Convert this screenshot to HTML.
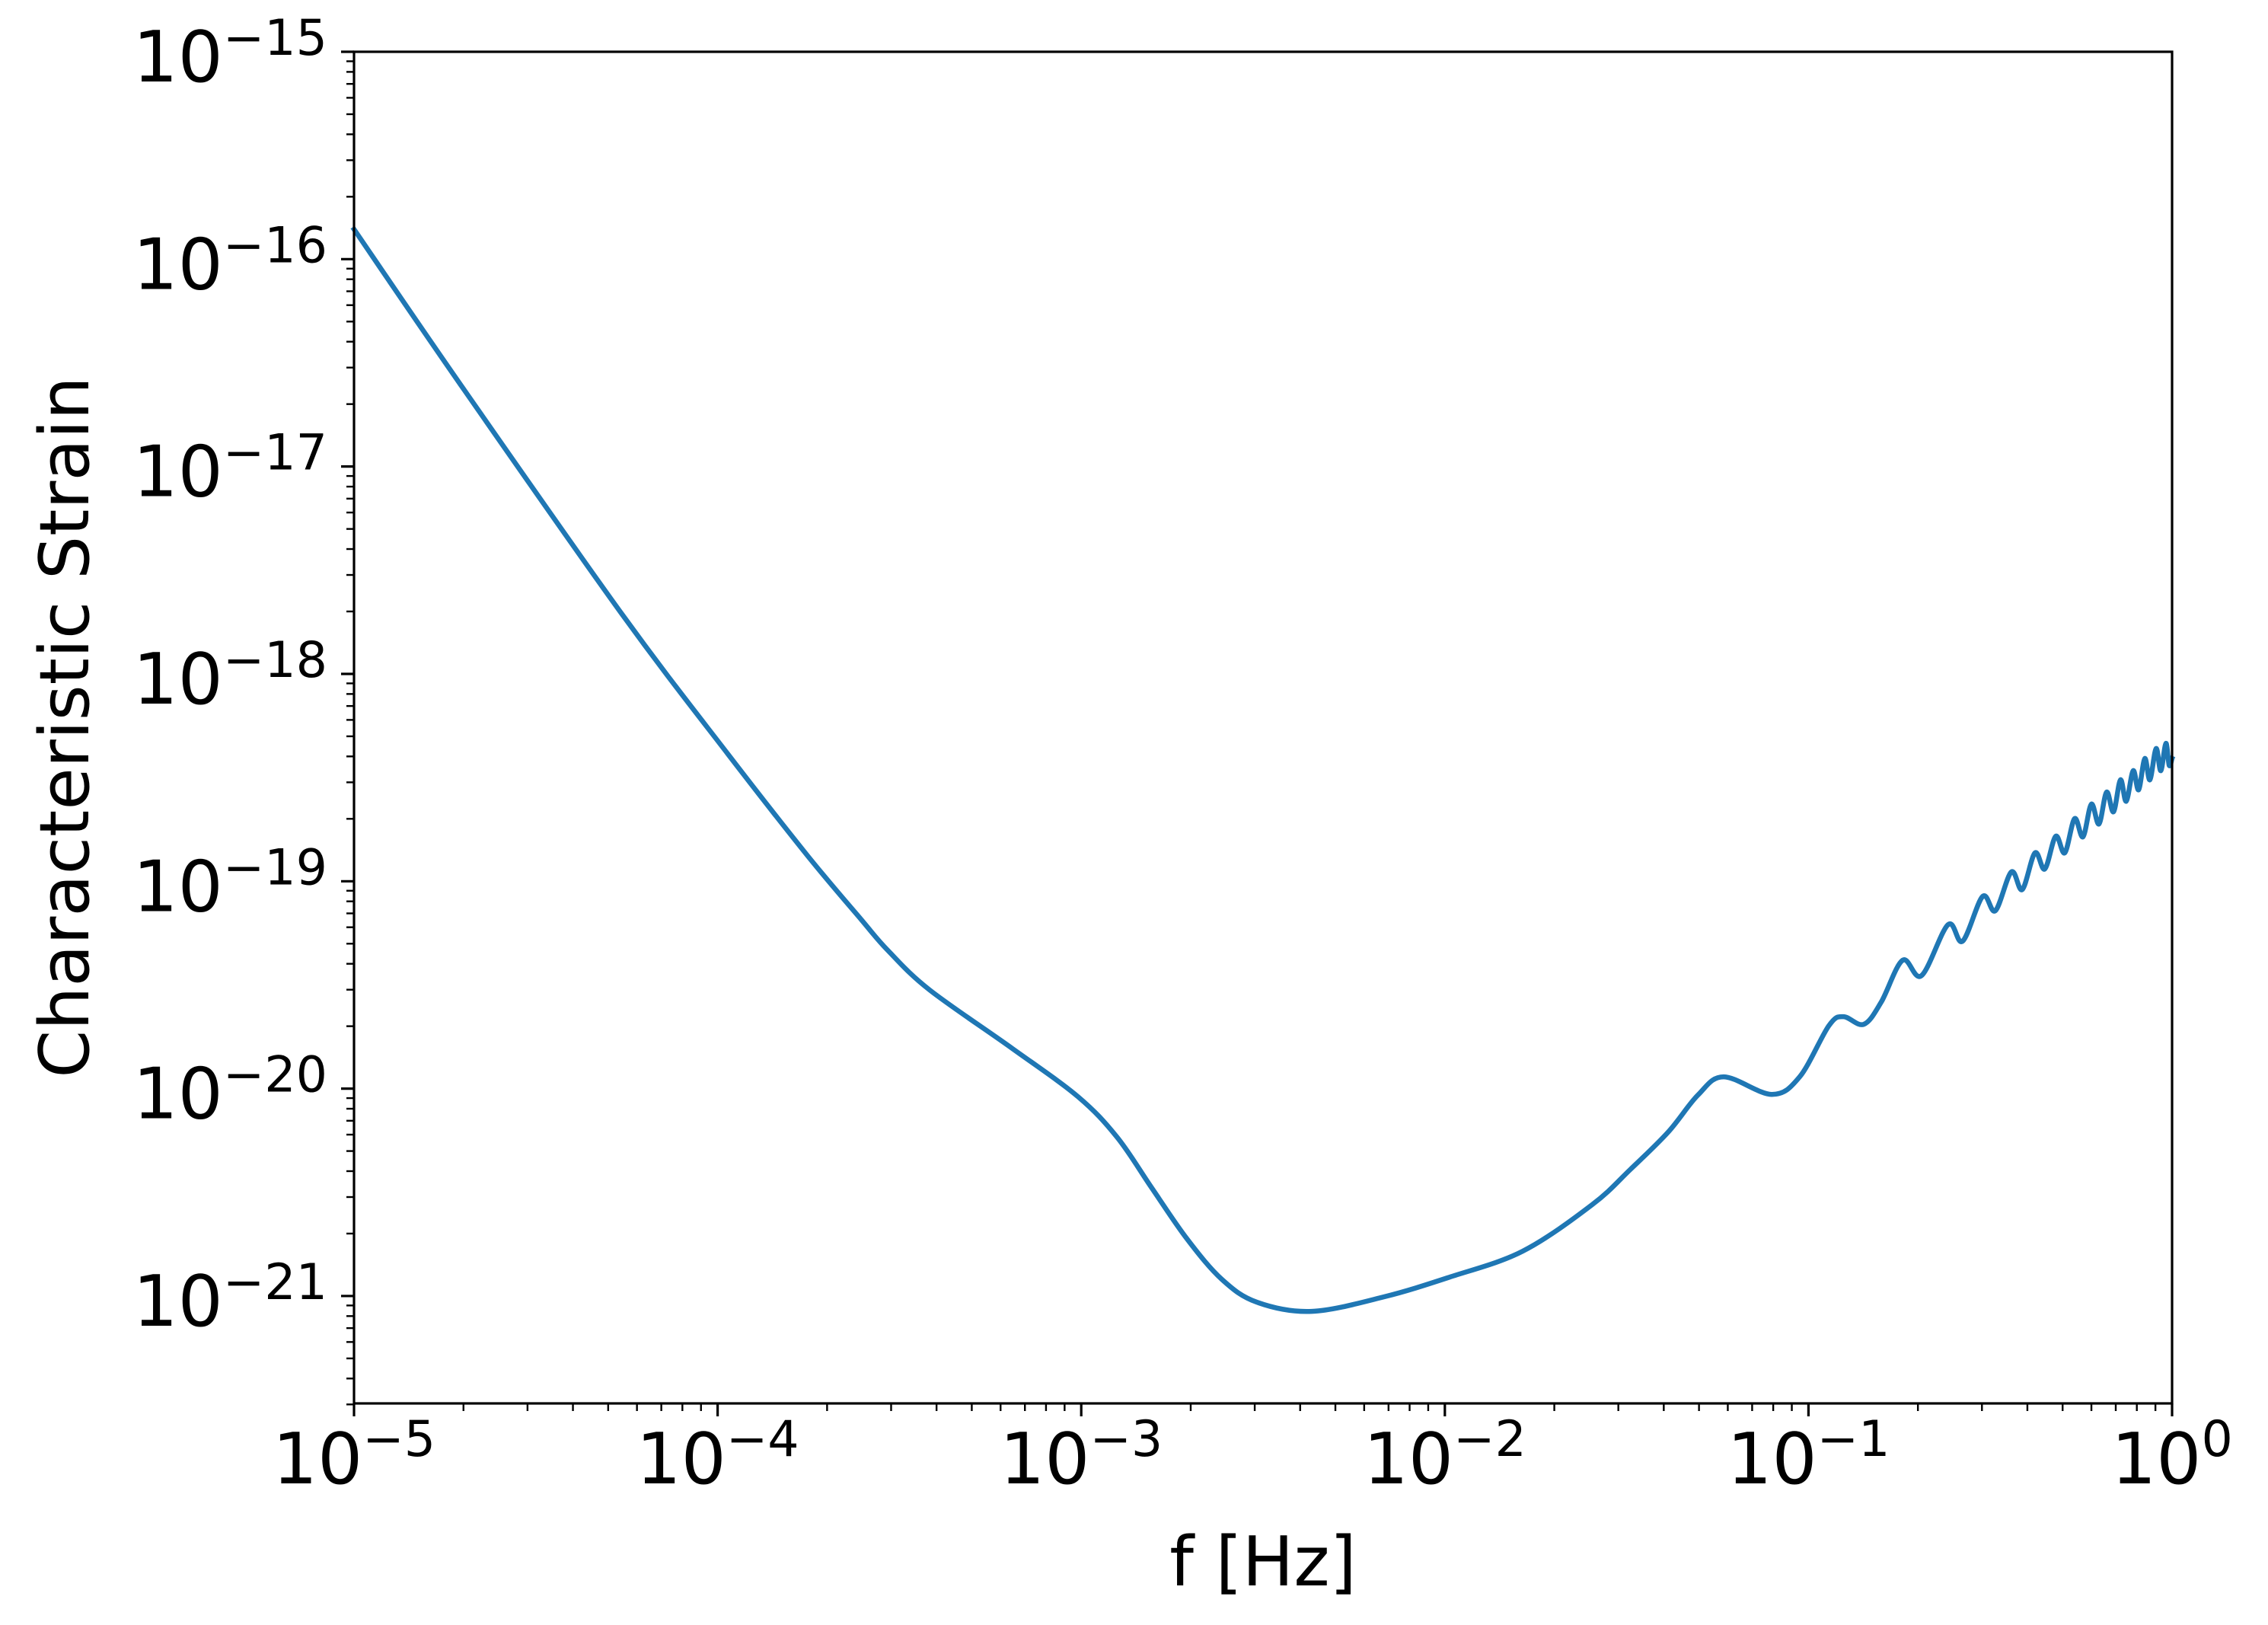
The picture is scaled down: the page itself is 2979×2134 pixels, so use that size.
<!DOCTYPE html>
<html><head><meta charset="utf-8">
<style>
html,body{margin:0;padding:0;background:#fff;}
svg{display:block;}
text{font-family:"DejaVu Sans","Liberation Sans",sans-serif;fill:#000;}
</style></head>
<body>
<svg id="chart" width="2979" height="2134" viewBox="0 0 2979 2134" xmlns="http://www.w3.org/2000/svg">
<rect x="0" y="0" width="2979" height="2134" fill="#fff"/>
<g id="ticks"></g>
<g id="plot"></g>
<rect x="465" y="68" width="2388" height="1775" fill="none" stroke="#000" stroke-width="3.2"/>
<text x="1659" y="2082" font-size="90" text-anchor="middle">f [Hz]</text>
<text x="0" y="0" font-size="90" text-anchor="middle" transform="translate(116,955) rotate(-90)">Characteristic Strain</text>
</svg>
<script>
// Data (log10 values)
const logFreq = [-5.000,-4.707,-4.265,-3.972,-3.752,-3.606,-3.532,-3.417,-3.189,-3.009,-2.902,-2.806,-2.709,-2.613,-2.517,-2.366,-2.167,-1.987,-1.786,-1.595,-1.490,-1.386,-1.304,-1.233,-1.101,-1.024,-0.944,-0.904,-0.848,-0.800,-0.741,-0.689,-0.616,-0.576,-0.521,-0.486,-0.442,-0.412,-0.377,-0.350,-0.320,-0.295,-0.268,-0.245,-0.222,-0.201,-0.180,-0.161,-0.142,-0.126,-0.107,-0.092,-0.075,-0.061,-0.044,-0.031,-0.017,-0.008,0.000];
const logStrain = [-15.856,-16.605,-17.707,-18.386,-18.878,-19.183,-19.333,-19.524,-19.807,-20.039,-20.233,-20.479,-20.725,-20.920,-21.030,-21.074,-21.004,-20.909,-20.784,-20.560,-20.390,-20.210,-20.031,-19.943,-20.028,-19.943,-19.697,-19.653,-19.690,-19.583,-19.381,-19.455,-19.209,-19.289,-19.073,-19.142,-18.955,-19.040,-18.863,-18.941,-18.783,-18.863,-18.698,-18.786,-18.628,-18.724,-18.570,-18.665,-18.511,-18.614,-18.467,-18.559,-18.408,-18.511,-18.360,-18.467,-18.335,-18.441,-18.408];
const xTickExps = [-5,-4,-3,-2,-1,0];
const xTickLabels = ["\u22125","\u22124","\u22123","\u22122","\u22121","0"];
const yTickExps = [-15,-16,-17,-18,-19,-20,-21];
const yTickLabels = ["\u221215","\u221216","\u221217","\u221218","\u221219","\u221220","\u221221"];

const L=465,R=2853,T=68,B=1843;
const xMin=-5,xMax=0,yMax=-15,yMin=-21.518;
const NS="http://www.w3.org/2000/svg";
function xs(v){return L+(v-xMin)/(xMax-xMin)*(R-L);}
function ys(v){return T+(yMax-v)/(yMax-yMin)*(B-T);}
function mk(tag,attrs,parent){const e=document.createElementNS(NS,tag);for(const k in attrs)e.setAttribute(k,attrs[k]);parent.appendChild(e);return e;}

const ticks=document.getElementById('ticks');
const plot=document.getElementById('plot');

xTickExps.forEach((e,i)=>{
  const x=xs(e);
  const t=mk('line',{x1:x,x2:x,y1:B,y2:B+17,stroke:'#000','stroke-width':3.2},ticks);
  
  
  const lab=mk('text',{x:x,y:1948,'font-size':93,'text-anchor':'middle'},ticks);
  
  
  const a=document.createElementNS(NS,'tspan');a.textContent='10';lab.appendChild(a);
  const b=document.createElementNS(NS,'tspan');b.setAttribute('dy','-36');b.setAttribute('font-size','65');b.textContent=xTickLabels[i];lab.appendChild(b);
  if(i<xTickExps.length-1){
    for(let m=2;m<=9;m++){
      const xm=xs(e+Math.log10(m));
      const mt=mk('line',{x1:xm,x2:xm,y1:B,y2:B+10,stroke:'#000','stroke-width':2.4},ticks);
      
      
    }
  }
});
yTickExps.forEach((e,i)=>{
  const y=ys(e);
  const t=mk('line',{x1:L-17,x2:L,y1:y,y2:y,stroke:'#000','stroke-width':3.2},ticks);
  
  
  const lab=mk('text',{x:430,y:y+39,'font-size':93,'text-anchor':'end'},ticks);
  
  
  const a=document.createElementNS(NS,'tspan');a.textContent='10';lab.appendChild(a);
  const b=document.createElementNS(NS,'tspan');b.setAttribute('dy','-35');b.setAttribute('font-size','65');b.textContent=yTickLabels[i];lab.appendChild(b);
});
for(let d=-22;d<=-16;d++){
  for(let m=2;m<=9;m++){
    const v=d+Math.log10(m);
    if(v>yMax)continue;
    const y=ys(v);
    if(y>B+2)continue;
    const mt=mk('line',{x1:L-10,x2:L,y1:y,y2:y,stroke:'#000','stroke-width':2.4},ticks);
    
    
  }
}
const pts=logFreq.map((f,i)=>[xs(f),ys(logStrain[i])]);
let d='M'+pts[0][0].toFixed(1)+','+pts[0][1].toFixed(1);
for(let i=0;i<pts.length-1;i++){
  const p0=pts[Math.max(0,i-1)],p1=pts[i],p2=pts[i+1],p3=pts[Math.min(pts.length-1,i+2)];
  const c1=[p1[0]+(p2[0]-p0[0])/6,p1[1]+(p2[1]-p0[1])/6];
  const c2=[p2[0]-(p3[0]-p1[0])/6,p2[1]-(p3[1]-p1[1])/6];
  d+=' C'+c1[0].toFixed(1)+','+c1[1].toFixed(1)+' '+c2[0].toFixed(1)+','+c2[1].toFixed(1)+' '+p2[0].toFixed(1)+','+p2[1].toFixed(1);
}
const line=mk('path',{d:d,fill:'none',stroke:'#1f77b4','stroke-width':6.5,'stroke-linejoin':'round','stroke-linecap':'square'},plot);


</script>
</body></html>
